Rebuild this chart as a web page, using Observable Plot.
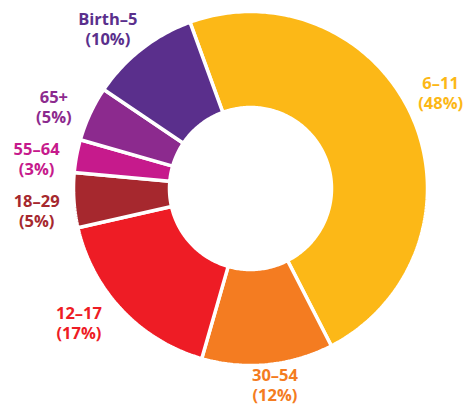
<!DOCTYPE html>
<html>
<head>
<meta charset="utf-8">
<script src="https://cdn.jsdelivr.net/npm/d3@7"></script>
<script src="https://cdn.jsdelivr.net/npm/@observablehq/plot@0.6"></script>
<style>
  html, body { margin: 0; padding: 0; background: #fff; }
  #chart svg { display: block; }
</style>
</head>
<body>
<div id="chart"></div>
<script>
// ---- data ----
const ages = ["6–11", "30–54", "12–17", "18–29", "55–64", "65+", "Birth–5"];
const shares = [48, 12, 17, 5, 3, 5, 10];
const colors = ["#FCB817", "#F47C21", "#EE1C25", "#A6282E", "#C61A8C", "#8C2A8E", "#5A2F8C"];

// ---- layout (label placement: angle in degrees, distance from centre) ----
const labelAngle = [63.2, 172.9, 231.9, 264.1, 278.0, 292.6, 318.2];
const labelRadius = [213, 198, 218, 215, 216, 213, 214];

const W = 468, H = 406;
const cx = 250, cy = 188;
const R = 177, r = 81;
const startDeg = -20;

const pie = d3.pie().sort(null)
  .startAngle(startDeg * Math.PI / 180)
  .endAngle((startDeg + 360) * Math.PI / 180)(shares);

const pts = [];
pie.forEach((s, i) => {
  const n = Math.max(8, Math.ceil((s.endAngle - s.startAngle) * 60));
  const ring = [];
  for (let k = 0; k <= n; k++) {
    const a = s.startAngle + (s.endAngle - s.startAngle) * k / n;
    ring.push([R * Math.sin(a), -R * Math.cos(a)]);
  }
  for (let k = n; k >= 0; k--) {
    const a = s.startAngle + (s.endAngle - s.startAngle) * k / n;
    ring.push([r * Math.sin(a), -r * Math.cos(a)]);
  }
  ring.push(ring[0]);
  ring.forEach(([x, y]) => pts.push({x, y, key: ages[i], color: colors[i]}));
});

const labels = ages.map((a, i) => {
  const t = labelAngle[i] * Math.PI / 180;
  return {
    x: labelRadius[i] * Math.sin(t),
    y: -labelRadius[i] * Math.cos(t),
    text: `${a}\n(${shares[i]}%)`,
    color: colors[i]
  };
});

const chart = Plot.plot({
  width: W,
  height: H,
  margin: 0,
  x: {domain: [-cx, W - cx], range: [0, W], axis: null},
  y: {domain: [-cy, H - cy], range: [0, H], axis: null},
  style: {background: "#fff"},
  marks: [
    Plot.line(pts, {
      x: "x", y: "y", z: "key",
      fill: "color",
      stroke: "white",
      strokeWidth: 3.5,
      strokeLinejoin: "miter",
      curve: "linear"
    }),
    Plot.text(labels, {
      x: "x", y: "y", text: "text",
      fill: "color",
      fontSize: 16.5,
      fontWeight: 700,
      fontFamily: "Open Sans",
      lineHeight: 1.2,
      textAnchor: "middle"
    })
  ]
});
document.getElementById("chart").appendChild(chart);
</script>
</body>
</html>
